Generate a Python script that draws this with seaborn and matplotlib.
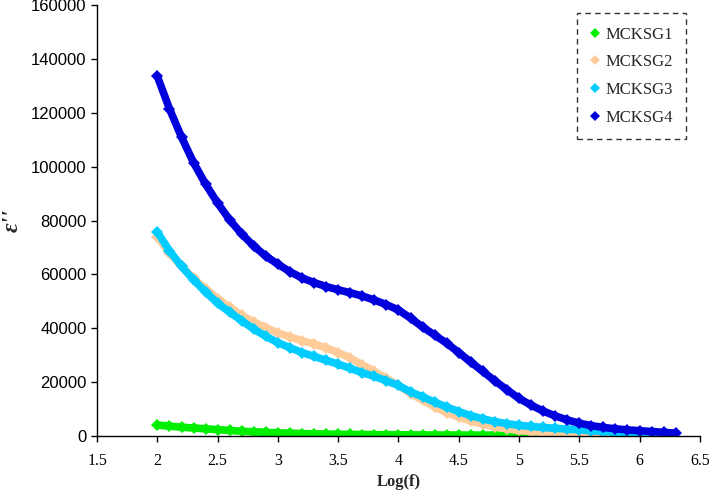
import numpy as np
import pandas as pd
import matplotlib
matplotlib.use("Agg")
import matplotlib.pyplot as plt
from matplotlib.lines import Line2D
import seaborn as sns

# Log(f) sample positions (2.0 .. 6.3)
log_f = [2.0, 2.1, 2.2, 2.3, 2.4, 2.5, 2.6, 2.7, 2.8, 2.9,
         3.0, 3.1, 3.2, 3.3, 3.4, 3.5, 3.6, 3.7, 3.8, 3.9,
         4.0, 4.1, 4.2, 4.3, 4.4, 4.5, 4.6, 4.7, 4.8, 4.9,
         5.0, 5.1, 5.2, 5.3, 5.4, 5.5, 5.6, 5.7, 5.8, 5.9,
         6.0, 6.1, 6.2, 6.3]

nan = np.nan
mcksg1 = [4100, 3700, 3300, 3000, 2700, 2400, 2100, 1800, 1600, 1400,
          1200, 1050, 950, 850, 760, 690, 630, 580, 540, 500,
          470, 450, 430, 410, 400, 390, 380, 370, 360, 350,
          350, 340, 340, 330, 330, 320, 320, 310, 300, nan,
          nan, nan, nan, nan]
mcksg2 = [74000, 68000, 63000, 58500, 54700, 51000, 47800, 44800, 42300, 40200,
          38300, 36800, 35400, 34200, 32700, 31000, 29000, 26500, 24000, 21400,
          18800, 15800, 13300, 10900, 8700, 7000, 5600, 4400, 3400, 2700,
          2100, 1700, 1400, 1150, 950, 800, 600, 400, 250, 150,
          nan, nan, nan, nan]
mcksg3 = [75700, 68800, 63000, 58000, 53500, 49300, 46000, 42800, 39700, 37000,
          34700, 32800, 31000, 29600, 28100, 26700, 25200, 23500, 22200, 20500,
          18800, 16400, 14600, 12600, 10800, 9100, 7600, 6400, 5400, 4600,
          4000, 3600, 3200, 2900, 2600, 2300, 2000, 1700, 1400, 1100,
          800, 500, 300, nan]
mcksg4 = [133500, 121500, 111000, 101500, 93500, 86500, 80200, 75000, 70500, 66800,
          63800, 61000, 58700, 57000, 55500, 54300, 53200, 52000, 50500, 48800,
          46800, 43800, 40500, 37500, 34500, 31000, 27500, 24000, 20500, 17200,
          14000, 11500, 9300, 7500, 6000, 4800, 3900, 3200, 2700, 2300,
          2000, 1700, 1400, 1100]

series_names = ["MCKSG1", "MCKSG2", "MCKSG3", "MCKSG4"]
series_colors = ["#00EE00", "#FFCC99", "#00CCFF", "#0000DD"]

df = pd.DataFrame({"Log(f)": log_f * 4,
                   "eps": mcksg1 + mcksg2 + mcksg3 + mcksg4,
                   "sample": np.repeat(series_names, len(log_f))}).dropna()

sns.set_theme(style="white")
plt.rcParams["font.family"] = ["Liberation Serif", "DejaVu Serif"]

fig = plt.figure(figsize=(7.09, 5.03), dpi=100)
ax = fig.add_axes([0.137, 0.133, 0.850, 0.857])

# one dense marker line per sample, drawn in legend order
for name, col in zip(series_names, series_colors):
    sub = df[df["sample"] == name]
    sns.lineplot(data=sub, x="Log(f)", y="eps", ax=ax, color=col, linewidth=5.5,
                 marker="D", markersize=6, markeredgewidth=0, legend=False)

ax.set_xlim(1.5, 6.5)
ax.set_ylim(0, 160000)
ax.set_xticks(np.arange(1.5, 6.51, 0.5))
ax.set_xticklabels([f"{v:g}" for v in np.arange(1.5, 6.51, 0.5)], fontsize=11.5)
ax.set_yticks(np.arange(0, 160001, 20000))
ax.set_yticklabels([str(v) for v in range(0, 160001, 20000)], fontsize=12,
                   family="Liberation Sans")
ax.tick_params(direction="out", length=4, width=1, colors="black", bottom=True, left=True)
ax.tick_params(axis="x", pad=8)
for s in ["top", "right"]:
    ax.spines[s].set_visible(False)
for s in ["left", "bottom"]:
    ax.spines[s].set_color("black")
    ax.spines[s].set_linewidth(1)

ax.set_xlabel("Log(f)", fontsize=12, fontweight="bold", labelpad=4)
ax.set_ylabel("ε''", fontsize=17, fontweight="bold", style="italic", labelpad=6)

handles = [Line2D([], [], linestyle="none", marker="D", markersize=5,
                  markeredgewidth=0, color=c) for c in series_colors]
leg = ax.legend(handles, series_names, loc="upper right", bbox_to_anchor=(0.977, 0.981),
                borderaxespad=0, fontsize=12, frameon=True, fancybox=False,
                handlelength=0.6, handletextpad=0.3, labelspacing=0.7, borderpad=0.8)
frame = leg.get_frame()
frame.set_edgecolor("black")
frame.set_linestyle((0, (4, 3)))
frame.set_linewidth(1)

fig.savefig("out.png", dpi=100)
